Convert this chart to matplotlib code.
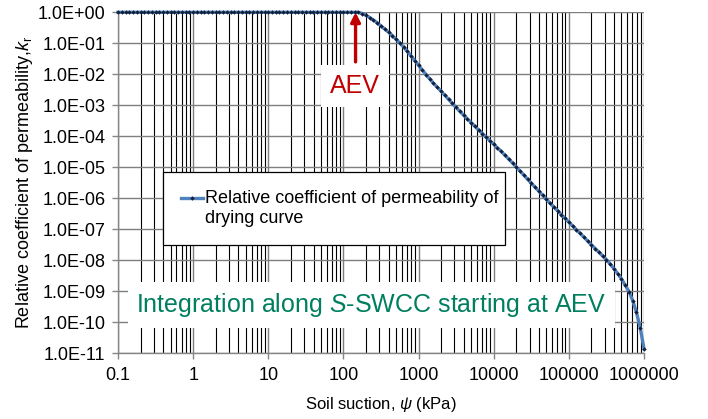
import numpy as np
import matplotlib
matplotlib.use("Agg")
import matplotlib.pyplot as plt
from matplotlib.ticker import FixedLocator, LogLocator, NullLocator, FixedFormatter
from matplotlib.legend_handler import HandlerLine2D

plt.rcParams['font.family'] = ['Liberation Sans', 'DejaVu Sans']
plt.rcParams['mathtext.fontset'] = 'custom'
plt.rcParams['mathtext.rm'] = 'Liberation Sans'
plt.rcParams['mathtext.it'] = 'Liberation Sans:italic'

# ---------------- data ----------------
psi_kpa = [
    0.1, 0.112, 0.126, 0.141, 0.158, 0.178, 0.2, 0.224, 0.251, 0.282,
    0.316, 0.355, 0.398, 0.447, 0.501, 0.562, 0.631, 0.708, 0.794, 0.891,
    1, 1.12, 1.26, 1.41, 1.58, 1.78, 2, 2.24, 2.51, 2.82,
    3.16, 3.55, 3.98, 4.47, 5.01, 5.62, 6.31, 7.08, 7.94, 8.91,
    10, 11.2, 12.6, 14.1, 15.8, 17.8, 20, 22.4, 25.1, 28.2,
    31.6, 35.5, 39.8, 44.7, 50.1, 56.2, 63.1, 70.8, 79.4, 89.1,
    100, 112, 126, 141, 158, 178, 200, 224, 251, 282,
    316, 355, 398, 447, 501, 562, 631, 708, 794, 891,
    1000, 1120, 1260, 1410, 1580, 1780, 2000, 2240, 2510, 2820,
    3160, 3550, 3980, 4470, 5010, 5620, 6310, 7080, 7940, 8910,
    10000, 11200, 12600, 14100, 15800, 17800, 20000, 22400, 25100, 28200,
    31600, 35500, 39800, 44700, 50100, 56200, 63100, 70800, 79400, 89100,
    100000, 112000, 126000, 141000, 158000, 178000, 200000, 224000, 251000, 282000,
    316000, 355000, 398000, 447000, 501000, 562000, 631000, 708000, 794000, 891000,
    1000000,
]
log10_kr = [
    0, 0, 0, 0, 0, 0, 0, 0, 0, 0,
    0, 0, 0, 0, 0, 0, 0, 0, 0, 0,
    0, 0, 0, 0, 0, 0, 0, 0, 0, 0,
    0, 0, 0, 0, 0, 0, 0, 0, 0, 0,
    0, 0, 0, 0, 0, 0, 0, 0, 0, 0,
    0, 0, 0, 0, 0, 0, 0, 0, 0, 0,
    0, 0, 0, 0, 0, -0.04, -0.10, -0.17, -0.25, -0.34,
    -0.44, -0.54, -0.64, -0.75, -0.87, -0.99, -1.12, -1.26, -1.41, -1.56,
    -1.71, -1.86, -2.01, -2.15, -2.29, -2.42, -2.55, -2.68, -2.81, -2.94,
    -3.07, -3.20, -3.32, -3.44, -3.56, -3.68, -3.80, -3.91, -4.03, -4.14,
    -4.26, -4.37, -4.49, -4.61, -4.73, -4.86, -4.99, -5.12, -5.25, -5.38,
    -5.51, -5.64, -5.77, -5.90, -6.03, -6.16, -6.28, -6.40, -6.53, -6.65,
    -6.77, -6.89, -7.01, -7.13, -7.25, -7.38, -7.50, -7.62, -7.74, -7.86,
    -7.98, -8.12, -8.27, -8.43, -8.60, -8.80, -9.01, -9.30, -9.68, -10.18,
    -10.85,
]
series_label = "Relative coefficient of permeability of\ndrying curve"

x_ticks = [0.1, 1, 10, 100, 1000, 10000, 100000, 1000000]
x_tick_labels = ["0.1", "1", "10", "100", "1000", "10000", "100000", "1000000"]
y_ticks = [1e0, 1e-1, 1e-2, 1e-3, 1e-4, 1e-5, 1e-6, 1e-7, 1e-8, 1e-9, 1e-10, 1e-11]

aev_psi = 145.0          # air-entry value marked by the arrow
arrow_tail_kr = 10 ** -1.6

kr = 10.0 ** np.array(log10_kr)

# ---------------- figure ----------------
fig = plt.figure(figsize=(7.08, 4.19), dpi=100)
ax = fig.add_axes([118 / 708, 1 - 353.3 / 419, 526 / 708, 341 / 419])
ax.set_xscale('log')
ax.set_yscale('log')
ax.set_xlim(0.1, 1e6)
ax.set_ylim(1e-11, 1)

line, = ax.plot(psi_kpa, kr, color='#4F81BD', lw=2.4, marker='D', ms=2.0,
                mfc='#13203a', mec='#13203a', mew=0.2, label=series_label,
                zorder=3, clip_on=False)

# ticks / grid
ax.xaxis.set_major_locator(FixedLocator(x_ticks))
ax.xaxis.set_major_formatter(FixedFormatter(x_tick_labels))
ax.xaxis.set_minor_locator(LogLocator(base=10, subs=range(2, 10), numticks=30))
ax.yaxis.set_major_locator(FixedLocator(y_ticks))
ax.yaxis.set_major_formatter(plt.FuncFormatter(lambda v, p: f"{v:.1E}"))
ax.yaxis.set_minor_locator(NullLocator())

ax.grid(which='major', axis='both', color='#7f7f7f', lw=1.0, zorder=0.5)
ax.grid(which='minor', axis='x', color='black', lw=0.8, zorder=0.5)
ax.set_axisbelow(True)

for s in ('top', 'right'):
    ax.spines[s].set_visible(False)
for s in ('left', 'bottom'):
    ax.spines[s].set_color('#868686')
    ax.spines[s].set_linewidth(1.0)

ax.tick_params(which='major', direction='out', length=4, width=1, color='#868686',
               labelsize=13, labelcolor='black')
ax.tick_params(axis='x', which='major', pad=6)
ax.tick_params(axis='y', which='major', pad=5)
ax.tick_params(which='minor', length=0)

ax.set_xlabel(r'Soil suction, $\mathit{\psi}$ (kPa)', fontsize=12, labelpad=8)
ax.set_ylabel(r'Relative coefficient of permeability,$\mathit{k}_\mathregular{r}$',
              fontsize=13, labelpad=2)


# legend (handle aligned with the first text line)
class FirstLineHandler(HandlerLine2D):
    def create_artists(self, legend, orig_handle, xdescent, ydescent, width,
                       height, fontsize, trans):
        arts = super().create_artists(legend, orig_handle, xdescent, ydescent,
                                      width, height, fontsize, trans)
        for a in arts:
            a.set_ydata(np.asarray(a.get_ydata()) + 0.58 * fontsize)
        return arts


leg = ax.legend(handles=[line], loc='upper left',
                bbox_to_anchor=((163 - 118) / 526, (353.3 - 172) / 341,
                                (505 - 163) / 526, 0.0),
                mode='expand', borderaxespad=0, fancybox=False, frameon=True,
                edgecolor='black', framealpha=1, fontsize=13, handlelength=1.2,
                handletextpad=0.1, borderpad=1.0, labelspacing=0.2,
                handler_map={line: FirstLineHandler(numpoints=1)})
leg.get_frame().set_linewidth(0.9)
leg.set_zorder(4)

# annotations
ax.text((355 - 118) / 526, (353.3 - 86) / 341, 'AEV', transform=ax.transAxes,
        ha='center', va='center', fontsize=18, color='#C00000', zorder=2.5,
        bbox=dict(boxstyle='square,pad=0.35', facecolor='white', edgecolor='none'))
ax.annotate('', xy=(aev_psi, 1.0), xytext=(aev_psi, arrow_tail_kr),
            arrowprops=dict(arrowstyle='-|>,head_length=0.55,head_width=0.28',
                            color='#C00000', lw=2.4, shrinkA=0, shrinkB=0),
            zorder=2.6)
ax.text((371.5 - 118) / 526, (353.3 - 305) / 341,
        r'Integration along $\mathit{S}$-SWCC starting at AEV',
        transform=ax.transAxes, ha='center', va='center', fontsize=18,
        color='#007F5F', zorder=2.5,
        bbox=dict(boxstyle='square,pad=0.35', facecolor='white', edgecolor='none'))

fig.savefig('out.png', dpi=100)
